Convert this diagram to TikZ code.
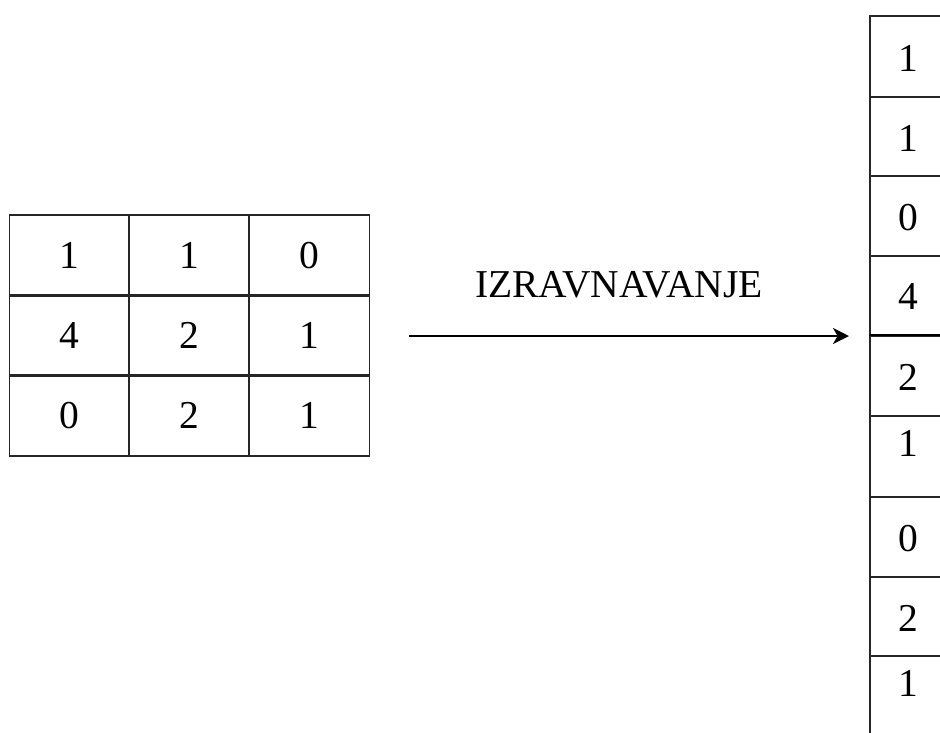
\documentclass[tikz,border=0pt]{standalone}
\usepackage{fontspec}
\setmainfont{Liberation Serif}
\usetikzlibrary{arrows.meta}
\begin{document}
\begin{tikzpicture}[x=1pt,y=-1pt,
  gridline/.style={draw=black!85, line width=1.6pt},
  cell/.style={gridline, minimum width=120pt, minimum height=80.5pt, inner sep=0pt, anchor=center},
  colcell/.style={gridline, minimum width=200pt, inner sep=0pt, anchor=north west},
  num/.style={inner sep=0pt, font=\fontsize{39.5}{42}\selectfont},
  caption/.style={inner sep=0pt, font=\fontsize{39.5}{42}\selectfont, anchor=base},
  flow/.style={draw=black, line width=1.6pt, -{Stealth[length=16pt,width=16pt,inset=4.5pt]}}
]
\useasboundingbox (0,0) rectangle (940,732);
\clip (0,0) rectangle (940,732);

% 3x3 input matrix
\node[cell] (m11) at (69.5,255.5) {}; \node[num] (n11) at (m11) {1};
\node[cell] (m12) at (189,255.5)  {}; \node[num] (n12) at (m12) {1};
\node[cell] (m13) at (309.5,255.5){}; \node[num] (n13) at (m13) {0};
\node[cell] (m21) at (69.5,335.5) {}; \node[num] (n21) at (m21) {4};
\node[cell] (m22) at (189,335.5)  {}; \node[num] (n22) at (m22) {2};
\node[cell] (m23) at (309.5,335.5){}; \node[num] (n23) at (m23) {1};
\node[cell] (m31) at (69.5,415.5) {}; \node[num] (n31) at (m31) {0};
\node[cell] (m32) at (189,415.5)  {}; \node[num] (n32) at (m32) {2};
\node[cell] (m33) at (309.5,415.5){}; \node[num] (n33) at (m33) {1};

% flattened column vector
\node[colcell, minimum height=81pt] (c1) at (869,15)  {};
\node[colcell, minimum height=79pt] (c2) at (869,96)  {};
\node[colcell, minimum height=80pt] (c3) at (869,175) {};
\node[colcell, minimum height=80pt] (c4) at (869,255) {};
\node[colcell, minimum height=80pt] (c5) at (869,335) {};
\node[colcell, minimum height=81pt] (c6) at (869,415) {};
\node[colcell, minimum height=80pt] (c7) at (869,496) {};
\node[colcell, minimum height=79pt] (c8) at (869,576) {};
\node[colcell, minimum height=120pt] (c9) at (869,655) {};
\draw[draw=black, line width=2.8pt] (c5.north west) -- (c5.north east);

\node[num] (v1) at (908.5,58)    {1};
\node[num] (v2) at (908.5,138)   {1};
\node[num] (v3) at (908.5,217.5) {0};
\node[num] (v4) at (908.5,296)   {4};
\node[num] (v5) at (908.5,377.5) {2};
\node[num] (v6) at (908.5,443)   {1};
\node[num] (v7) at (908.5,538.5) {0};
\node[num] (v8) at (908.5,618)   {2};
\node[num] (v9) at (908.5,683)   {1};

% flattening arrow
\coordinate (a0) at (409,336);
\coordinate (a1) at (849,336);
\draw[flow] (a0) -- (a1);
\node[caption] (lbl) at (619,297) {IZRAVNAVANJE};
\end{tikzpicture}
\end{document}
